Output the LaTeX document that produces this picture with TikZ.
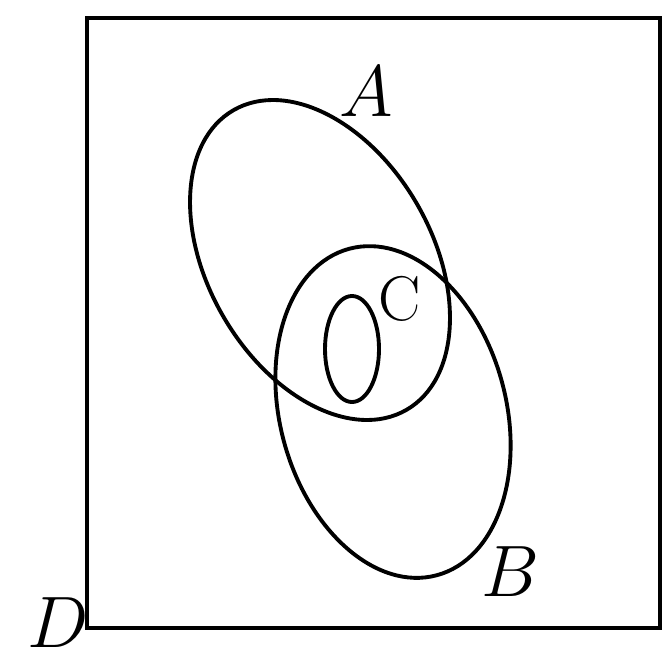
\documentclass[tikz,border=0pt]{standalone}
\usepackage{tikz}

\begin{document}
\begin{tikzpicture}[x=.1mm,y=.1mm,line width=1.1pt,every node/.style={font=\fontsize{20}{24}\selectfont,inner sep=0pt}]
\useasboundingbox (0,0) rectangle (664,660);
\draw[line width=1.3pt] (87,32) rectangle (660,642);\node (labD) at (58,37){$D$};
\draw[rotate around={-60:(320,400)}] (320,400) ellipse (173 and 112);\node (labA) at (366,568){$A$};
\draw[rotate around={-75:(393,248)}] (393,248) ellipse (169 and 113);\node (labB) at (510,88){$B$};
\draw (352,311) ellipse (27 and 53);\node[font=\fontsize{18}{22}\selectfont] (labC) at (400,361){C};
\end{tikzpicture}
\end{document}
